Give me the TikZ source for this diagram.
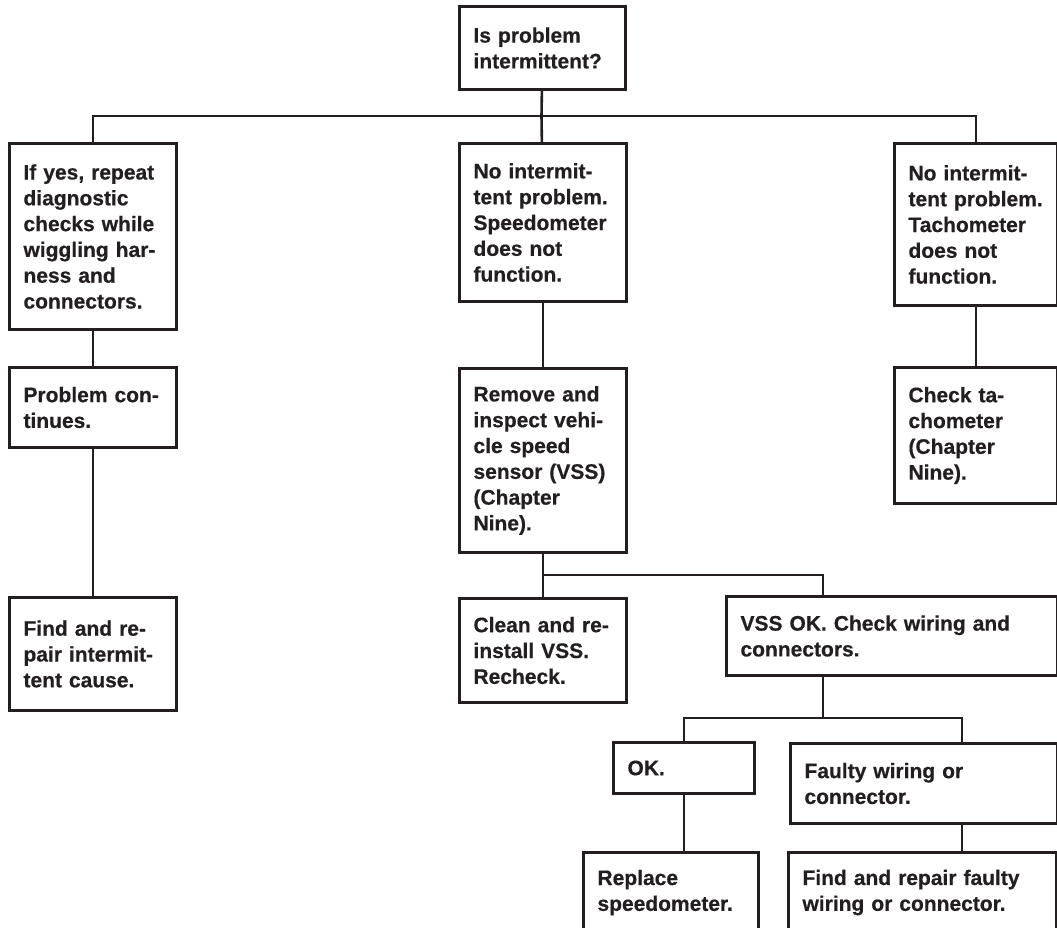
\documentclass[tikz,border=0pt]{standalone}
\usepackage{fontspec}
\setmainfont{Liberation Sans}[BoldFeatures={FakeBold=0.5}]
\definecolor{ink}{RGB}{35,31,32}
\newcommand{\boxfont}{\fontsize{21}{25.8}\selectfont\bfseries}
\tikzset{
    stepbox/.style={
        rectangle,
        draw=ink,
        line width=3pt,
        fill=white,
        text=ink,
        anchor=north west,
        align=left,
        inner xsep=14pt,
        inner ysep=0pt,
        font=\boxfont
    },
    link/.style={
        draw=ink,
        line width=2.6pt
    }
}

\begin{document}
\begin{tikzpicture}[x=1pt, y=-1pt]

    \fill[white] (0,0) rectangle (1057,927);
    \useasboundingbox (0,0) rectangle (1057,927);
    \clip (0,0) rectangle (1057,927);

    % Question
    \node[stepbox, text width=138pt, minimum height=83pt] (intermit) at (458,5) {Is problem\\intermittent?};

    % Left branch
    \node[stepbox, text width=139pt, minimum height=186pt] (repeatchk) at (8,142) {If yes, repeat\\diagnostic\\checks while\\wiggling har-\\ness and\\connectors.};
    \node[stepbox, text width=139pt, minimum height=80pt] (continues) at (8,366) {Problem con-\\tinues.};
    \node[stepbox, text width=139pt, minimum height=113pt] (fixint) at (8,596) {Find and re-\\pair intermit-\\tent cause.};

    % Middle branch
    \node[stepbox, text width=139pt, minimum height=158pt] (speedo) at (458,142) {No intermit-\\tent problem.\\Speedometer\\does not\\function.};
    \node[stepbox, text width=139pt, minimum height=184pt] (vss) at (458,367) {Remove and\\inspect vehi-\\cle speed\\sensor (VSS)\\(Chapter\\Nine).};
    \node[stepbox, text width=139pt, minimum height=104pt] (clean) at (458,597) {Clean and re-\\install VSS.\\Recheck.};
    \node[stepbox, text width=303pt, minimum height=79pt] (vssok) at (725,595) {VSS OK. Check wiring and\\connectors.};
    \node[stepbox, text width=113pt, minimum height=51pt] (ok) at (612,741) {OK.};
    \node[stepbox, text width=239pt, minimum height=80pt] (faulty) at (789,742) {Faulty wiring or\\connector.};
    \node[stepbox, text width=147pt, minimum height=80pt] (replace) at (582,851) {Replace\\speedometer.};
    \node[stepbox, text width=240pt, minimum height=80pt] (fixwire) at (787,851) {Find and repair faulty\\wiring or connector.};

    % Right branch
    \node[stepbox, text width=135pt, minimum height=162pt] (tach) at (893,142) {No intermit-\\tent problem.\\Tachometer\\does not\\function.};
    \node[stepbox, text width=135pt, minimum height=136pt] (chktach) at (893,366) {Check ta-\\chometer\\(Chapter\\Nine).};

    % Junctions
    \coordinate (split) at (541.5,116);
    \coordinate (vssjoin) at (823,575);
    \coordinate (okjoin) at (823,718);
    \coordinate (fwdrop) at (962,718);

    % Connectors
    \draw[link] (intermit) -- (split);
    \draw[link] (repeatchk.north) |- (split) -| (tach.north);
    \draw[link] (split) -- (speedo);

    \draw[link] (repeatchk) -- (continues);
    \draw[link] (continues) -- (fixint);

    \draw[link] (speedo) -- (vss);
    \draw[link] (vss) -- (clean);
    \draw[link] (vssjoin -| vss.south) -- (vssjoin) -- (vssjoin |- vssok.north);
    \draw[link] (vssok.south -| okjoin) -- (okjoin);
    \draw[link] (ok.north) |- (fwdrop) -- (fwdrop |- faulty.north);
    \draw[link] (ok.south) -- (ok.south |- replace.north);
    \draw[link] (faulty.south -| fwdrop) -- (fixwire.north -| fwdrop);

    \draw[link] (tach) -- (chktach);

\end{tikzpicture}
\end{document}
